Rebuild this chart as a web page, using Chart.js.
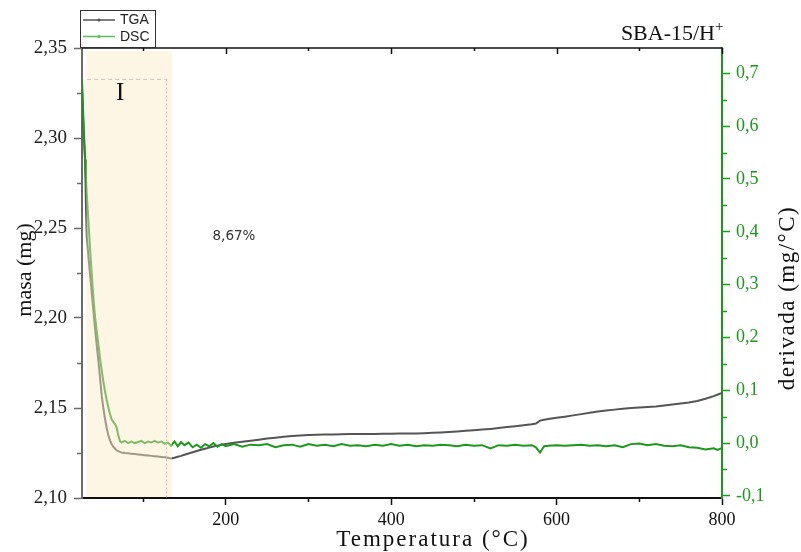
<!DOCTYPE html>
<html>
<head>
<meta charset="utf-8">
<title>SBA-15/H+ TGA</title>
<script src="https://cdn.jsdelivr.net/npm/chart.js@4.4.1/dist/chart.umd.min.js"></script>
<style>
  html, body { margin: 0; padding: 0; background: #fff; }
  #wrap { width: 801px; height: 552px; }
</style>
</head>
<body>
<div id="wrap"><canvas id="tga-chart" width="801" height="552"></canvas></div>
<script>
// temperature (°C), shared by both curves
const temps = [
  26, 27, 28, 29, 30, 31, 32, 34, 36, 38,
  40, 42, 44, 46, 48, 50, 52, 54, 56, 58,
  60, 62, 64, 66, 68, 70, 72, 74, 78, 82,
  86, 90, 94, 98, 102, 106, 110, 114, 118, 122,
  126, 130, 134, 138, 142, 146, 150, 155, 160, 165,
  170, 175, 180, 185, 190, 195, 200, 210, 220, 230,
  240, 250, 260, 270, 280, 290, 300, 310, 320, 330,
  340, 350, 360, 370, 380, 390, 400, 410, 420, 430,
  440, 450, 460, 470, 480, 490, 500, 510, 520, 530,
  540, 550, 560, 570, 575, 580, 585, 590, 600, 610,
  620, 630, 640, 650, 660, 670, 680, 690, 700, 710,
  720, 730, 740, 750, 760, 770, 780, 790, 795, 800
];

// masa (mg)
const tgaMass = [
  2.330, 2.318, 2.305, 2.296, 2.288, 2.262, 2.245, 2.234, 2.224, 2.214,
  2.204, 2.194, 2.185, 2.176, 2.167, 2.157, 2.150, 2.144, 2.139, 2.135,
  2.132, 2.130, 2.1285, 2.1275, 2.1265, 2.126, 2.1256, 2.1253, 2.1250, 2.1248,
  2.1246, 2.1244, 2.1242, 2.1240, 2.1238, 2.1236, 2.1234, 2.1232, 2.1230, 2.1228,
  2.1226, 2.1224, 2.1220, 2.1224, 2.1229, 2.1234, 2.1240, 2.1247, 2.1254, 2.1261,
  2.1268, 2.1274, 2.1280, 2.1286, 2.1291, 2.1296, 2.1300, 2.1307, 2.1313, 2.1318,
  2.1324, 2.1330, 2.1335, 2.1340, 2.1344, 2.1347, 2.1350, 2.1351, 2.1353, 2.1353,
  2.1354, 2.1355, 2.1355, 2.1356, 2.1356, 2.1357, 2.1357, 2.1358, 2.1358, 2.1359,
  2.1360, 2.1362, 2.1364, 2.1367, 2.1370, 2.1373, 2.1376, 2.1380, 2.1384, 2.1389,
  2.1394, 2.1399, 2.1404, 2.1410, 2.1414, 2.1430, 2.1435, 2.1439, 2.1446, 2.1452,
  2.1459, 2.1466, 2.1473, 2.1480, 2.1486, 2.1491, 2.1496, 2.1500, 2.1503, 2.1506,
  2.1509, 2.1514, 2.1519, 2.1525, 2.1531, 2.1539, 2.1551, 2.1566, 2.1575, 2.1583
];

// derivada (mg/°C)
const dscDeriv = [
  0.690, 0.655, 0.610, 0.570, 0.530, 0.500, 0.470, 0.420, 0.366, 0.320,
  0.275, 0.239, 0.212, 0.187, 0.160, 0.138, 0.117, 0.098, 0.082, 0.068,
  0.055, 0.045, 0.040, 0.036, 0.030, 0.015, 0.004, 0.001, 0.004, 0.000,
  0.003, 0.000, 0.002, 0.004, 0.000, 0.003, 0.001, 0.004, 0.001, 0.003,
  -0.001, 0.001, -0.005, 0.003, -0.006, 0.002, -0.004, 0.001, -0.008, -0.003,
  -0.009, -0.002, -0.006, 0.000, -0.007, -0.002, -0.006, -0.002, -0.007, -0.003,
  -0.004, -0.002, -0.008, -0.004, -0.003, -0.007, -0.002, -0.005, -0.003, -0.006,
  -0.002, -0.005, -0.004, -0.006, -0.003, -0.005, -0.002, -0.005, -0.003, -0.006,
  -0.004, -0.005, -0.003, -0.004, -0.006, -0.003, -0.005, -0.004, -0.010, -0.004,
  -0.005, -0.003, -0.005, -0.004, -0.008, -0.018, -0.006, -0.005, -0.004, -0.005,
  -0.004, -0.003, -0.005, -0.004, -0.006, -0.004, -0.008, -0.002, -0.001, -0.004,
  -0.002, -0.005, -0.006, -0.004, -0.008, -0.009, -0.012, -0.010, -0.013, -0.009
];

const seriesLabels = ["TGA", "DSC"];

// tick values
const xTickValues = [200, 400, 600, 800];
const massTickValues = [2.10, 2.15, 2.20, 2.25, 2.30, 2.35];
const derivTickValues = [-0.1, 0.0, 0.1, 0.2, 0.3, 0.4, 0.5, 0.6, 0.7];

// region I (°C) and its guide
const regionRange = [31.4, 135];
const regionGuideT = [32.5, 128.5];
const regionGuideMass = 2.3326;
const regionLabelAt = [72.4, 2.3245];
const lossLabelAt = [184, 2.2455];

const SERIF = '"Liberation Serif", "Times New Roman", serif';
const SANS = '"Liberation Sans", Arial, sans-serif';
const GREEN = "#1c981c";


function fixedTicks(values){

    return scale => {
        scale.ticks = values.map(v => ({ value: v }));
    };

}


function minorValues(scale){

    const vals = scale.ticks.map(t => t.value);
    if(vals.length < 2) return [];

    const step = vals[1] - vals[0];
    const out = [];

    vals.forEach(v => {
        if(v - step / 2 >= scale.min - 1e-9) out.push(v - step / 2);
    });

    const last = vals[vals.length - 1];
    if(last + step / 2 <= scale.max + 1e-9) out.push(last + step / 2);

    return out;
}


// shaded region drawn over the curves
const regionPlugin = {

    id: "regionI",

    afterDatasetsDraw(chart){

        const { ctx, chartArea: a, scales: { x, y } } = chart;

        const x0 = x.getPixelForValue(regionRange[0]);
        const x1 = x.getPixelForValue(regionRange[1]);

        ctx.save();

        ctx.fillStyle = "rgba(250,234,198,0.45)";
        ctx.fillRect(x0, a.top + 3, x1 - x0, a.bottom - a.top - 4);

        const gx0 = x.getPixelForValue(regionGuideT[0]);
        const gx1 = x.getPixelForValue(regionGuideT[1]);
        const gy = y.getPixelForValue(regionGuideMass);

        ctx.strokeStyle = "#c4c0b8";
        ctx.lineWidth = 1;
        ctx.setLineDash([4, 3]);
        ctx.beginPath();
        ctx.moveTo(gx0, gy);
        ctx.lineTo(gx1, gy);
        ctx.stroke();

        ctx.setLineDash([2, 2]);
        ctx.beginPath();
        ctx.moveTo(gx1, gy);
        ctx.lineTo(gx1, a.bottom);
        ctx.stroke();

        ctx.restore();

    }

};


// frame, minor ticks, legend and texts
const decorPlugin = {

    id: "decor",

    afterDraw(chart){

        const { ctx, chartArea: a, scales } = chart;
        const x = scales.x, y = scales.y, y2 = scales.y2;

        ctx.save();

        // top frame line with inward ticks
        ctx.strokeStyle = "#111";
        ctx.lineWidth = 1.5;
        ctx.beginPath();
        ctx.moveTo(a.left, a.top);
        ctx.lineTo(a.right, a.top);
        ctx.stroke();

        ctx.beginPath();
        x.ticks.forEach(t => {
            const px = Math.round(x.getPixelForValue(t.value)) + 0.5;
            ctx.moveTo(px, a.top);
            ctx.lineTo(px, a.top + 6);
        });
        minorValues(x).forEach(v => {
            const px = Math.round(x.getPixelForValue(v)) + 0.5;
            ctx.moveTo(px, a.top);
            ctx.lineTo(px, a.top + 3);
            ctx.moveTo(px, a.bottom);
            ctx.lineTo(px, a.bottom + 4);
        });
        ctx.stroke();

        // left minor ticks
        ctx.strokeStyle = "#6b6b6b";
        ctx.beginPath();
        minorValues(y).forEach(v => {
            const py = Math.round(y.getPixelForValue(v)) + 0.5;
            ctx.moveTo(a.left, py);
            ctx.lineTo(a.left - 5, py);
        });
        ctx.stroke();

        // right minor ticks
        ctx.strokeStyle = GREEN;
        ctx.beginPath();
        minorValues(y2).forEach(v => {
            const py = Math.round(y2.getPixelForValue(v)) + 0.5;
            ctx.moveTo(a.right, py);
            ctx.lineTo(a.right + 5, py);
        });
        ctx.stroke();

        // legend box
        ctx.fillStyle = "#fff";
        ctx.fillRect(80, 10, 75, 37);
        ctx.strokeStyle = "#333";
        ctx.lineWidth = 1;
        ctx.strokeRect(80.5, 10.5, 75, 37);

        chart.data.datasets.forEach((ds, i) => {

            const ly = 20 + i * 16.5;

            ctx.strokeStyle = ds.legendColor;
            ctx.lineWidth = 1.5;
            ctx.beginPath();
            ctx.moveTo(83, ly);
            ctx.lineTo(115, ly);
            ctx.stroke();

            ctx.fillStyle = ds.legendColor;
            ctx.beginPath();
            ctx.arc(99, ly, 1.6, 0, Math.PI * 2);
            ctx.fill();

            ctx.fillStyle = "#222";
            ctx.font = "14px " + SANS;
            ctx.textAlign = "left";
            ctx.textBaseline = "middle";
            ctx.fillText(ds.label, 120, ly + 0.5);

        });

        // sample title
        ctx.fillStyle = "#111";
        ctx.font = "22px " + SERIF;
        ctx.textAlign = "right";
        ctx.textBaseline = "alphabetic";
        ctx.fillText("SBA-15/H", 715, 40);
        ctx.font = "15px " + SERIF;
        ctx.textAlign = "left";
        ctx.fillText("+", 715, 31);

        // region label
        ctx.font = "25px " + SERIF;
        ctx.textAlign = "center";
        ctx.textBaseline = "middle";
        ctx.fillText(
            "I",
            x.getPixelForValue(regionLabelAt[0]),
            y.getPixelForValue(regionLabelAt[1])
        );

        // mass loss
        ctx.fillStyle = "#333";
        ctx.font = '13.5px "DejaVu Sans", sans-serif';
        ctx.textAlign = "left";
        ctx.fillText(
            "8,67%",
            x.getPixelForValue(lossLabelAt[0]),
            y.getPixelForValue(lossLabelAt[1])
        );

        // axis titles
        ctx.fillStyle = "#111";
        ctx.textAlign = "center";
        ctx.textBaseline = "middle";

        ctx.font = "23px " + SERIF;
        ctx.letterSpacing = "2px";
        ctx.fillText("Temperatura (°C)", 433, 540);

        ctx.save();
        ctx.letterSpacing = "0px";
        ctx.font = "22px " + SERIF;
        ctx.translate(25, 270);
        ctx.rotate(-Math.PI / 2);
        ctx.fillText("masa (mg)", 0, 0);
        ctx.restore();

        ctx.save();
        ctx.font = "23px " + SERIF;
        ctx.letterSpacing = "1.5px";
        ctx.translate(788, 298);
        ctx.rotate(-Math.PI / 2);
        ctx.fillText("derivada (mg/°C)", 0, 0);
        ctx.restore();

        ctx.restore();

    }

};


const tgaPoints = temps.map((t, i) => ({ x: t, y: tgaMass[i] }));
const dscPoints = temps.map((t, i) => ({ x: t, y: dscDeriv[i] }));


new Chart(
    document.getElementById("tga-chart"),
    {

        type: "line",

        data: {

            datasets: [
                {
                    label: seriesLabels[0],
                    data: tgaPoints,
                    yAxisID: "y",
                    borderColor: "#555555",
                    legendColor: "#555555",
                    borderWidth: 2,
                    pointRadius: 0,
                    tension: 0,
                    order: 1
                },
                {
                    label: seriesLabels[1],
                    data: dscPoints,
                    yAxisID: "y2",
                    borderColor: GREEN,
                    legendColor: "#5cbf5c",
                    borderWidth: 2,
                    pointRadius: 0,
                    tension: 0,
                    order: 0
                }
            ]

        },

        options: {

            responsive: false,
            animation: false,
            events: [],

            layout: {
                padding: { top: 48, left: 0, right: 0, bottom: 0 }
            },

            plugins: {
                legend: { display: false },
                tooltip: { enabled: false }
            },

            scales: {

                x: {
                    type: "linear",
                    position: "bottom",
                    min: 26.2,
                    max: 800,
                    afterBuildTicks: fixedTicks(xTickValues),
                    afterFit(s){ s.height = 54; },
                    border: { color: "#111", width: 2 },
                    grid: {
                        drawOnChartArea: false,
                        tickLength: 7,
                        tickColor: "#111",
                        tickWidth: 1.5
                    },
                    ticks: {
                        maxRotation: 0,
                        padding: 4,
                        color: "#111",
                        font: { family: SERIF, size: 18 },
                        callback: v => String(v)
                    }
                },

                y: {
                    position: "left",
                    min: 2.10,
                    max: 2.35,
                    afterBuildTicks: fixedTicks(massTickValues),
                    afterFit(s){ s.width = 82; },
                    border: { color: "#6b6b6b", width: 2 },
                    grid: {
                        drawOnChartArea: false,
                        tickLength: 8,
                        tickColor: "#6b6b6b",
                        tickWidth: 1.5
                    },
                    ticks: {
                        padding: 7,
                        color: "#222",
                        font: { family: SERIF, size: 19 },
                        callback: v => v.toFixed(2).replace(".", ",")
                    }
                },

                y2: {
                    position: "right",
                    min: -0.104,
                    max: 0.748,
                    afterBuildTicks: fixedTicks(derivTickValues),
                    afterFit(s){ s.width = 79; },
                    border: { color: GREEN, width: 2 },
                    grid: {
                        drawOnChartArea: false,
                        tickLength: 8,
                        tickColor: GREEN,
                        tickWidth: 1.5
                    },
                    ticks: {
                        padding: 6,
                        color: GREEN,
                        font: { family: SERIF, size: 18 },
                        callback: v => v.toFixed(1).replace(".", ",")
                    }
                }

            }

        },

        plugins: [regionPlugin, decorPlugin]

    }
);
</script>
</body>
</html>
